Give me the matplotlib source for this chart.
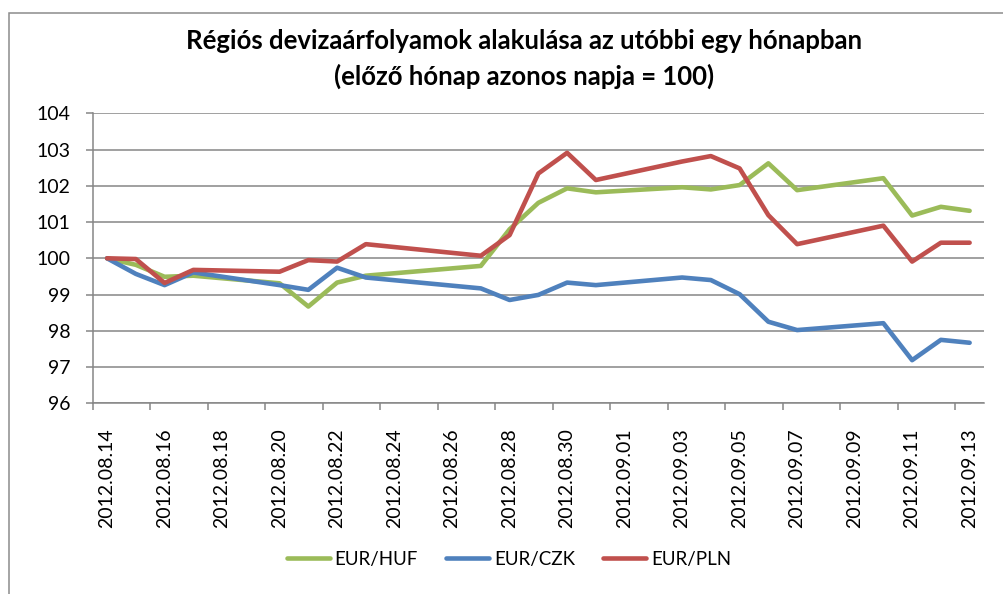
import numpy as np
import matplotlib
matplotlib.use("Agg")
import matplotlib.pyplot as plt
from matplotlib.patches import Rectangle

# business days with data (08.24 is missing in the source)
dates = ["2012-08-14", "2012-08-15", "2012-08-16", "2012-08-17", "2012-08-20",
         "2012-08-21", "2012-08-22", "2012-08-23", "2012-08-27", "2012-08-28",
         "2012-08-29", "2012-08-30", "2012-08-31", "2012-09-03", "2012-09-04",
         "2012-09-05", "2012-09-06", "2012-09-07", "2012-09-10", "2012-09-11",
         "2012-09-12", "2012-09-13"]

eur_huf = [100.0, 99.82, 99.49, 99.52, 99.31, 98.67, 99.33, 99.52, 99.79, 100.80,
           101.53, 101.93, 101.82, 101.96, 101.90, 102.02, 102.62, 101.88, 102.21,
           101.18, 101.42, 101.31]
eur_czk = [100.0, 99.57, 99.26, 99.61, 99.26, 99.13, 99.74, 99.47, 99.17, 98.85,
           98.99, 99.33, 99.26, 99.47, 99.40, 99.01, 98.25, 98.02, 98.21,
           97.19, 97.75, 97.67]
eur_pln = [100.0, 99.98, 99.32, 99.68, 99.63, 99.95, 99.91, 100.39, 100.07, 100.64,
           102.34, 102.91, 102.16, 102.67, 102.82, 102.48, 101.19, 100.39, 100.90,
           99.91, 100.43, 100.43]

tick_labels = ["2012.08.14", "2012.08.16", "2012.08.18", "2012.08.20", "2012.08.22",
               "2012.08.24", "2012.08.26", "2012.08.28", "2012.08.30", "2012.09.01",
               "2012.09.03", "2012.09.05", "2012.09.07", "2012.09.09", "2012.09.11",
               "2012.09.13"]

# day offsets from the first date
d = np.array(dates, dtype="datetime64[D]")
x = (d - d[0]).astype(int)
n_days = 31

grid_col = "#868686"
label_font = "Lato"

fig = plt.figure(figsize=(10.04, 5.94), dpi=100)
ax = fig.add_axes([92.7 / 1004, 1 - 403.3 / 594, (984 - 92.7) / 1004, (403.3 - 113.3) / 594])

# outer chart frame
fig.patches.append(Rectangle((9 / 1004, -0.1), 1.2, 1 - 13 / 594 + 0.1, transform=fig.transFigure,
                             fill=False, edgecolor="#8c8c8c", linewidth=1.1))

lw = 3.3
ax.plot(x, eur_huf, color="#9BBB59", lw=lw, label="EUR/HUF", solid_joinstyle="round", solid_capstyle="round")
ax.plot(x, eur_czk, color="#4F81BD", lw=lw, label="EUR/CZK", solid_joinstyle="round", solid_capstyle="round")
ax.plot(x, eur_pln, color="#C0504D", lw=lw, label="EUR/PLN", solid_joinstyle="round", solid_capstyle="round")

ax.set_xlim(-0.5, n_days - 0.5)
ax.set_ylim(96, 104)
ax.set_yticks(range(96, 105))
ax.yaxis.grid(True, color=grid_col, lw=1.1)
ax.set_axisbelow(True)

ax.set_xticks(range(0, n_days, 2))
ax.set_xticklabels(tick_labels, rotation=90, fontfamily=label_font, fontsize=14)
ax.set_xticks(np.arange(-0.5, n_days - 1, 2), minor=True)
ax.tick_params(axis="x", which="major", length=0, pad=18)
ax.tick_params(axis="x", which="minor", length=5, width=1.1, color=grid_col)
ax.tick_params(axis="y", length=5, width=1.1, color=grid_col, pad=11, labelsize=14)
for t in ax.get_yticklabels():
    t.set_fontfamily(label_font)

for s in ["top", "right"]:
    ax.spines[s].set_visible(False)
for s in ["left", "bottom"]:
    ax.spines[s].set_color(grid_col)
    ax.spines[s].set_linewidth(1.1)

fig.text(524 / 1004, 1 - 41 / 594, "Régiós devizaárfolyamok alakulása az utóbbi egy hónapban",
         ha="center", va="center", fontsize=18.5, fontweight="bold", fontfamily=label_font)
fig.text(524 / 1004, 1 - 76 / 594, "(előző hónap azonos napja = 100)",
         ha="center", va="center", fontsize=18.5, fontweight="bold", fontfamily=label_font)

leg = fig.legend(loc="center", bbox_to_anchor=(509 / 1004, 1 - 559 / 594), ncol=3, frameon=False,
                 prop={"family": label_font, "size": 13.5}, handlelength=2.3, handletextpad=0.25,
                 columnspacing=1.5)
for h in leg.get_lines():
    h.set_linewidth(3.3)

fig.savefig("out.png", dpi=100)
